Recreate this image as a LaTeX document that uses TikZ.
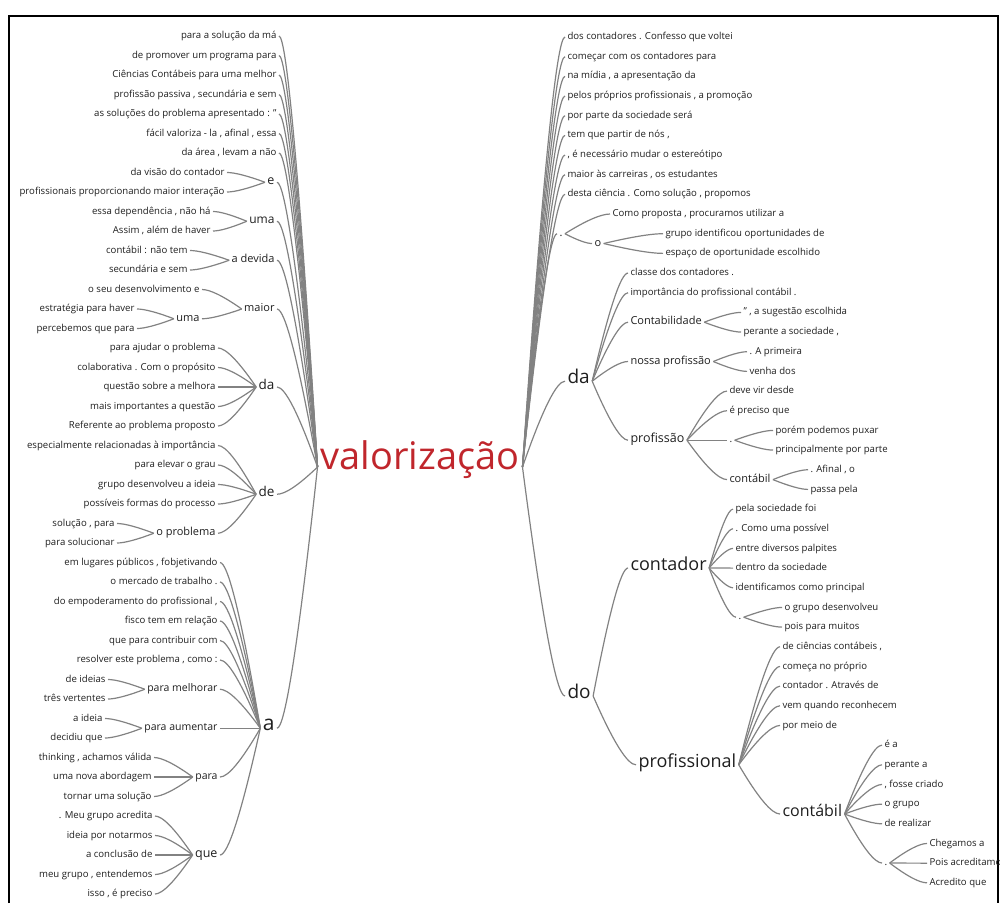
\documentclass[tikz,border=0pt]{standalone}
\usepackage{fontspec}
\setmainfont{Open Sans}
\usetikzlibrary{calc}
\definecolor{linkgray}{RGB}{130,130,130}
\definecolor{inkgray}{RGB}{30,30,30}
\definecolor{rootred}{RGB}{192,38,44}
\newcommand{\fsz}[1]{\fontsize{#1}{#1}\selectfont}
\newcommand{\rl}[1]{19.5*#1+16.5}
\newcommand{\rr}[1]{19.67*#1+17.33}

\begin{document}
\begin{tikzpicture}[x=1pt, y=-1pt,
  word/.style={inner sep=0pt, outer xsep=2.5pt, text=inkgray, text height=.72em, text depth=.2em},
  wl/.style={word, anchor=east, font=\fsz{#1}}, wl/.default=9.6,
  wr/.style={word, anchor=west, font=\fsz{#1}}, wr/.default=9.6,
  link/.style={draw=linkgray, line width=1.2pt},
  wt/.style={to path={let \p1=(\tikztostart), \p2=(\tikztotarget) in
    .. controls ({\x1+0.4667*(\x2-\x1)},{\y1+0.6667*(\y2-\y1)}) and ({\x2-0.2*(\x2-\x1)},\y2) .. (\tikztotarget)}}]
\useasboundingbox (0,0) rectangle (1000,903);
\draw[line width=2pt] (9,903) -- (9,16) -- (998,16) -- (998,903);

\node[word, font=\fsz{38}, text=rootred, outer xsep=3pt] (root) at (420,467) {valorização};

\node[wl] (ll1) at (279,{\rl{1}}) {para a solução da má};
\node[wl] (ll2) at (279,{\rl{2}}) {de promover um programa para};
\node[wl] (ll3) at (279,{\rl{3}}) {Ciências Contábeis para uma melhor};
\node[wl] (ll4) at (279,{\rl{4}}) {profissão passiva , secundária e sem};
\node[wl] (ll5) at (279,{\rl{5}}) {as soluções do problema apresentado : "};
\node[wl] (ll6) at (279,{\rl{6}}) {fácil valoriza - la , afinal , essa};
\node[wl] (ll7) at (279,{\rl{7}}) {da área , levam a não};
\node[wl=12.5] (le) at (277,182.25) {e};
\node[wl] (le1) at (227,{\rl{8}}) {da visão do contador};
\node[wl] (le2) at (227,{\rl{9}}) {profissionais proporcionando maior interação};
\node[wl=12] (luma) at (277,221.25) {uma};
\node[wl] (luma1) at (213,{\rl{10}}) {essa dependência , não há};
\node[wl] (luma2) at (213,{\rl{11}}) {Assim , além de haver};
\node[wl=11] (ldev) at (277,260.25) {a devida};
\node[wl] (ldev1) at (190,{\rl{12}}) {contábil : não tem};
\node[wl] (ldev2) at (190,{\rl{13}}) {secundária e sem};
\node[wl=11] (lmaior) at (277,309) {maior};
\node[wl] (lmaior1) at (202,{\rl{14}}) {o seu desenvolvimento e};
\node[wl=11] (lmuma) at (202,318.75) {uma};
\node[wl] (lmuma1) at (137,{\rl{15}}) {estratégia para haver};
\node[wl] (lmuma2) at (137,{\rl{16}}) {percebemos que para};
\node[wl=13.5] (lda) at (277,387) {da};
\node[wl] (lda1) at (218,{\rl{17}}) {para ajudar o problema};
\node[wl] (lda2) at (218,{\rl{18}}) {colaborativa . Com o propósito};
\node[wl] (lda3) at (218,{\rl{19}}) {questão sobre a melhora};
\node[wl] (lda4) at (218,{\rl{20}}) {mais importantes a questão};
\node[wl] (lda5) at (218,{\rl{21}}) {Referente ao problema proposto};
\node[wl=13.5] (lde) at (277,494.25) {de};
\node[wl] (lde1) at (218,{\rl{22}}) {especialmente relacionadas à importância};
\node[wl] (lde2) at (218,{\rl{23}}) {para elevar o grau};
\node[wl] (lde3) at (218,{\rl{24}}) {grupo desenvolveu a ideia};
\node[wl] (lde4) at (218,{\rl{25}}) {possíveis formas do processo};
\node[wl=11] (lprob) at (218,533.25) {o problema};
\node[wl] (lprob1) at (117,{\rl{26}}) {solução , para};
\node[wl] (lprob2) at (117,{\rl{27}}) {para solucionar};
\node[wl=21] (la) at (277,728.25) {a};
\node[wl] (la1) at (220,{\rl{28}}) {em lugares públicos , fobjetivando};
\node[wl] (la2) at (220,{\rl{29}}) {o mercado de trabalho .};
\node[wl] (la3) at (220,{\rl{30}}) {do empoderamento do profissional ,};
\node[wl] (la4) at (220,{\rl{31}}) {fisco tem em relação};
\node[wl] (la5) at (220,{\rl{32}}) {que para contribuir com};
\node[wl] (la6) at (220,{\rl{33}}) {resolver este problema , como :};
\node[wl=10.5] (lpm) at (220,689.25) {para melhorar};
\node[wl] (lpm1) at (108,{\rl{34}}) {de ideias};
\node[wl] (lpm2) at (108,{\rl{35}}) {três vertentes};
\node[wl=10.5] (lpa) at (220,728.25) {para aumentar};
\node[wl] (lpa1) at (105,{\rl{36}}) {a ideia};
\node[wl] (lpa2) at (105,{\rl{37}}) {decidiu que};
\node[wl=10.5] (lpara) at (220,777) {para};
\node[wl] (lpara1) at (154,{\rl{38}}) {thinking , achamos válida};
\node[wl] (lpara2) at (154,{\rl{39}}) {uma nova abordagem};
\node[wl] (lpara3) at (154,{\rl{40}}) {tornar uma solução};
\node[wl=12.5] (lque) at (220,855) {que};
\node[wl] (lque1) at (155,{\rl{41}}) {. Meu grupo acredita};
\node[wl] (lque2) at (155,{\rl{42}}) {ideia por notarmos};
\node[wl] (lque3) at (155,{\rl{43}}) {a conclusão de};
\node[wl] (lque4) at (155,{\rl{44}}) {meu grupo , entendemos};
\node[wl] (lque5) at (155,{\rl{45}}) {isso , é preciso};

\node[wr] (rr1) at (565,{\rr{1}}) {dos contadores . Confesso que voltei};
\node[wr] (rr2) at (565,{\rr{2}}) {começar com os contadores para};
\node[wr] (rr3) at (565,{\rr{3}}) {na mídia , a apresentação da};
\node[wr] (rr4) at (565,{\rr{4}}) {pelos próprios profissionais , a promoção};
\node[wr] (rr5) at (565,{\rr{5}}) {por parte da sociedade será};
\node[wr] (rr6) at (565,{\rr{6}}) {tem que partir de nós ,};
\node[wr] (rr7) at (565,{\rr{7}}) {, é necessário mudar o estereótipo};
\node[wr] (rr8) at (565,{\rr{8}}) {maior às carreiras , os estudantes};
\node[wr] (rr9) at (565,{\rr{9}}) {desta ciência . Como solução , propomos};
\node[wr=11] (rdot) at (557,233.7) {.};
\node[wr] (rdot1) at (610,{\rr{10}}) {Como proposta , procuramos utilizar a};
\node[wr=11] (ro) at (592,243.5) {o};
\node[wr] (ro1) at (663,{\rr{11}}) {grupo identificou oportunidades de};
\node[wr] (ro2) at (663,{\rr{12}}) {espaço de oportunidade escolhido};
\node[wr=19] (rda) at (565,381.2) {da};
\node[wr] (rda1) at (628,{\rr{13}}) {classe dos contadores .};
\node[wr] (rda2) at (628,{\rr{14}}) {importância do profissional contábil .};
\node[wr=11] (rcontab) at (628,322.2) {Contabilidade};
\node[wr] (rcontab1) at (741,{\rr{15}}) {" , a sugestão escolhida};
\node[wr] (rcontab2) at (741,{\rr{16}}) {perante a sociedade ,};
\node[wr=11] (rnossa) at (628,361.5) {nossa profissão};
\node[wr] (rnossa1) at (747,{\rr{17}}) {. A primeira};
\node[wr] (rnossa2) at (747,{\rr{18}}) {venha dos};
\node[wr=12.5] (rprof) at (628,440.2) {profissão};
\node[wr] (rprof1) at (727,{\rr{19}}) {deve vir desde};
\node[wr] (rprof2) at (727,{\rr{20}}) {é preciso que};
\node[wr=10] (rpdot) at (727,440.2) {.};
\node[wr] (rpdot1) at (773,{\rr{21}}) {porém podemos puxar};
\node[wr] (rpdot2) at (773,{\rr{22}}) {principalmente por parte};
\node[wr=11] (rpcont) at (727,479.6) {contábil};
\node[wr] (rpcont1) at (808,{\rr{23}}) {. Afinal , o};
\node[wr] (rpcont2) at (808,{\rr{24}}) {passa pela};
\node[wr=19] (rdo) at (565,696) {do};
\node[wr=18] (rcontador) at (628,568) {contador};
\node[wr] (rcontador1) at (733,{\rr{25}}) {pela sociedade foi};
\node[wr] (rcontador2) at (733,{\rr{26}}) {. Como uma possível};
\node[wr] (rcontador3) at (733,{\rr{27}}) {entre diversos palpites};
\node[wr] (rcontador4) at (733,{\rr{28}}) {dentro da sociedade};
\node[wr] (rcontador5) at (733,{\rr{29}}) {identificamos como principal};
\node[wr=10] (rcdot) at (736,617.2) {.};
\node[wr] (rcdot1) at (782,{\rr{30}}) {o grupo desenvolveu};
\node[wr] (rcdot2) at (782,{\rr{31}}) {pois para muitos};
\node[wr=18] (rprofl) at (636,764.8) {profissional};
\node[wr] (rprofl1) at (780,{\rr{32}}) {de ciências contábeis ,};
\node[wr] (rprofl2) at (780,{\rr{33}}) {começa no próprio};
\node[wr] (rprofl3) at (780,{\rr{34}}) {contador . Através de};
\node[wr] (rprofl4) at (780,{\rr{35}}) {vem quando reconhecem};
\node[wr] (rprofl5) at (780,{\rr{36}}) {por meio de};
\node[wr=16] (rpc) at (780,814) {contábil};
\node[wr] (rpc1) at (882,{\rr{37}}) {é a};
\node[wr] (rpc2) at (882,{\rr{38}}) {perante a};
\node[wr] (rpc3) at (882,{\rr{39}}) {, fosse criado};
\node[wr] (rpc4) at (882,{\rr{40}}) {o grupo};
\node[wr] (rpc5) at (882,{\rr{41}}) {de realizar};
\node[wr=10] (rpcdot) at (882,863) {.};
\node[wr] (rpcdot1) at (927,{\rr{42}}) {Chegamos a};
\node[wr] (rpcdot2) at (927,{\rr{43}}) {Pois acreditamos};
\node[wr] (rpcdot3) at (927,{\rr{44}}) {Acredito que};

\foreach \s/\n in {le/2, luma/2, ldev/2, lmaior/1, lmuma/2, lda/5, lde/4, lprob/2, la/6, lpm/2, lpa/2, lpara/3, lque/5}
  \foreach \k in {1,...,\n}
    \draw[link] (\s.west) to[wt] (\s\k.east);
\foreach \k in {1,...,7}
  \draw[link] (root.west) to[wt] (ll\k.east);
\foreach \s/\t in {root/le, root/luma, root/ldev, root/lmaior, root/lda, root/lde, root/la,
    lmaior/lmuma, lde/lprob, la/lpm, la/lpa, la/lpara, la/lque}
  \draw[link] (\s.west) to[wt] (\t.east);

\foreach \s/\n in {rdot/1, ro/2, rda/2, rcontab/2, rnossa/2, rprof/2, rpdot/2, rpcont/2,
    rcontador/5, rcdot/2, rprofl/5, rpc/5, rpcdot/3}
  \foreach \k in {1,...,\n}
    \draw[link] (\s.east) to[wt] (\s\k.west);
\foreach \k in {1,...,9}
  \draw[link] (root.east) to[wt] (rr\k.west);
\foreach \s/\t in {root/rdot, root/rda, root/rdo, rdot/ro, rda/rcontab, rda/rnossa, rda/rprof,
    rprof/rpdot, rprof/rpcont, rdo/rcontador, rdo/rprofl, rcontador/rcdot, rprofl/rpc, rpc/rpcdot}
  \draw[link] (\s.east) to[wt] (\t.west);
\end{tikzpicture}
\end{document}
